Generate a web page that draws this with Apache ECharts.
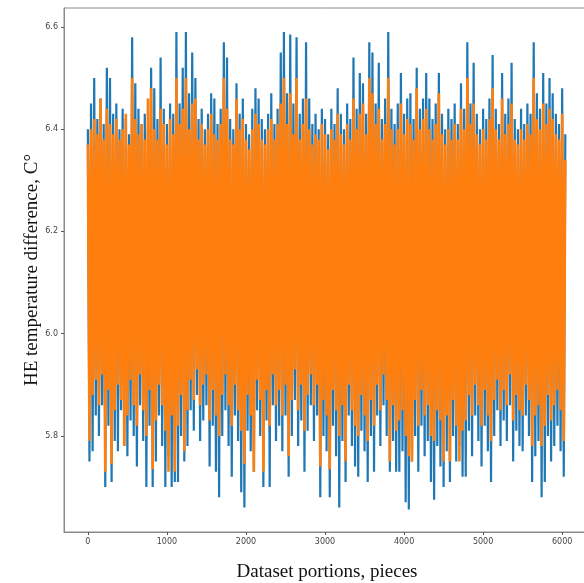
<!DOCTYPE html>
<html>
<head>
<meta charset="utf-8">
<script src="https://cdn.jsdelivr.net/npm/echarts@6/dist/echarts.min.js"></script>
<style>
html,body{margin:0;padding:0;background:#fff;}
#chart{width:584px;height:583px;}
</style>
</head>
<body>
<div id="chart"></div>
<script>
// sampling step along the x axis (dataset portion index)
const portionStep = 20;

// measured HE temperature difference (blue)
const blueValues = [
6.40,5.75,6.45,5.77,6.50,5.84,6.42,5.80,6.46,5.86,6.41,5.70,6.52,5.82,6.50,5.71,6.43,5.79,6.45,5.77,
6.40,5.85,6.44,5.78,6.42,5.76,6.39,5.83,6.58,5.80,6.49,5.74,6.44,5.86,6.41,5.79,6.43,5.70,6.40,5.82,
6.52,5.70,6.48,5.75,6.42,5.84,6.54,5.78,6.44,5.70,6.41,5.76,6.45,5.70,6.43,5.71,6.59,5.71,6.45,5.80,
6.52,5.75,6.59,5.78,6.47,5.85,6.55,5.81,6.50,5.88,6.42,5.79,6.44,5.83,6.40,5.86,6.43,5.74,6.47,5.82,
6.46,5.73,6.41,5.68,6.44,5.80,6.57,5.85,6.54,5.78,6.42,5.72,6.40,5.84,6.49,5.79,6.43,5.69,6.46,5.66,
6.41,5.81,6.39,5.77,6.44,5.73,6.48,5.85,6.46,5.80,6.42,5.70,6.40,5.83,6.43,5.70,6.47,5.86,6.41,5.79,
6.44,5.82,6.55,5.77,6.59,5.84,6.47,5.72,6.585,5.80,6.45,5.87,6.58,5.78,6.43,5.83,6.46,5.73,6.57,5.81,
6.46,5.86,6.41,5.79,6.43,5.84,6.40,5.68,6.44,5.80,6.42,5.77,6.39,5.68,6.44,5.82,6.41,5.76,6.48,5.66,
6.43,5.79,6.40,5.71,6.45,5.84,6.42,5.78,6.54,5.74,6.44,5.72,6.51,5.81,6.49,5.77,6.43,5.71,6.57,5.80,
6.55,5.73,6.45,5.84,6.53,5.78,6.42,5.86,6.46,5.80,6.59,5.73,6.44,5.79,6.41,5.73,6.45,5.73,6.51,5.77,
6.43,5.67,6.46,5.656,6.47,5.75,6.42,5.80,6.52,5.73,6.44,5.82,6.46,5.76,6.51,5.79,6.46,5.71,6.42,5.675,
6.45,5.78,6.51,5.74,6.43,5.70,6.40,5.77,6.44,5.71,6.42,5.80,6.45,5.75,6.41,5.78,6.49,5.72,6.44,5.72,
6.57,5.81,6.45,5.76,6.53,5.84,6.43,5.79,6.40,5.74,6.44,5.82,6.42,5.77,6.46,5.71,6.545,5.80,6.44,5.85,
6.41,5.78,6.51,5.83,6.43,5.79,6.46,5.86,6.53,5.75,6.42,5.81,6.40,5.78,6.44,5.77,6.41,5.84,6.45,5.80,
6.43,5.71,6.57,5.76,6.47,5.79,6.44,5.68,6.51,5.71,6.45,5.80,6.50,5.75,6.47,5.78,6.43,5.82,6.41,5.77,
6.48,5.72,6.39
];

// predicted HE temperature difference (orange)
const orangeValues = [
6.37,5.79,6.40,5.88,6.42,5.91,6.39,5.86,6.46,5.92,6.38,5.73,6.44,5.89,6.41,5.745,6.39,5.85,6.42,5.90,
6.38,5.87,6.40,5.78,6.43,5.84,6.37,5.91,6.50,5.86,6.42,5.82,6.39,5.92,6.41,5.85,6.38,5.80,6.46,5.89,
6.48,5.735,6.40,5.83,6.38,5.90,6.44,5.86,6.41,5.81,6.37,5.73,6.42,5.84,6.39,5.73,6.50,5.82,6.41,5.88,
6.44,5.77,6.50,5.85,6.40,5.91,6.45,5.87,6.46,5.93,6.38,5.86,6.41,5.90,6.37,5.92,6.40,5.83,6.43,5.89,
6.39,5.84,6.38,5.80,6.41,5.88,6.50,5.92,6.44,5.86,6.38,5.82,6.37,5.90,6.46,5.85,6.40,5.81,6.42,5.745,
6.38,5.88,6.36,5.84,6.40,5.73,6.43,5.91,6.41,5.87,6.38,5.73,6.37,5.89,6.40,5.82,6.42,5.92,6.38,5.86,
6.41,5.89,6.45,5.84,6.50,5.90,6.41,5.76,6.47,5.87,6.39,5.93,6.50,5.85,6.38,5.90,6.41,5.81,6.46,5.88,
6.40,5.92,6.37,5.86,6.39,5.90,6.38,5.74,6.41,5.87,6.39,5.84,6.36,5.735,6.40,5.89,6.38,5.85,6.43,5.80,
6.39,5.86,6.37,5.75,6.41,5.90,6.38,5.85,6.46,5.82,6.40,5.80,6.43,5.88,6.45,5.84,6.39,5.79,6.50,5.87,
6.47,5.82,6.41,5.90,6.44,5.85,6.38,5.92,6.41,5.87,6.50,5.75,6.40,5.86,6.37,5.81,6.40,5.83,6.45,5.85,
6.39,5.80,6.42,5.76,6.41,5.75,6.38,5.87,6.48,5.82,6.40,5.89,6.42,5.84,6.44,5.86,6.40,5.80,6.38,5.79,
6.41,5.85,6.47,5.83,6.39,5.75,6.37,5.84,6.40,5.75,6.38,5.87,6.41,5.82,6.38,5.75,6.44,5.81,6.40,5.83,
6.50,5.88,6.41,5.84,6.45,5.90,6.39,5.86,6.37,5.82,6.40,5.89,6.38,5.84,6.42,5.79,6.48,5.87,6.40,5.91,
6.38,5.85,6.46,5.89,6.39,5.86,6.41,5.92,6.45,5.83,6.38,5.88,6.37,5.85,6.40,5.84,6.38,5.90,6.41,5.87,
6.39,5.78,6.50,5.84,6.42,5.86,6.40,5.78,6.45,5.82,6.41,5.88,6.44,5.83,6.42,5.86,6.39,5.89,6.38,5.85,
6.43,5.79,6.34
];

// tick labels
const xTicks = [0, 1000, 2000, 3000, 4000, 5000, 6000];
const yTicks = [5.8, 6.0, 6.2, 6.4, 6.6];

const toPoints = arr => arr.map((v, i) => [i * portionStep, v]);

const chart = echarts.init(document.getElementById('chart'), null, {renderer: 'canvas'});
const axisGrey = '#8a8a8a';
const labelStyle = {fontFamily: 'DejaVu Sans', fontSize: 8, color: '#444'};

chart.setOption({
  animation: false,
  backgroundColor: '#fff',
  grid: {left: 64, top: 8, width: 526, height: 524, outerBoundsMode: 'none', containLabel: false,
         show: true, borderColor: axisGrey, borderWidth: 1},
  xAxis: {
    type: 'value', min: -302, max: 6352,
    name: 'Dataset portions, pieces', nameLocation: 'middle', nameGap: 31, nameMoveOverlap: false,
    nameTextStyle: {fontFamily: 'Liberation Serif', fontSize: 19, color: '#111'},
    axisLine: {show: true, onZero: false, lineStyle: {color: axisGrey}},
    axisTick: {show: true, inside: false, length: 3, customValues: xTicks, lineStyle: {color: '#555'}},
    axisLabel: Object.assign({customValues: xTicks, margin: 6, formatter: v => String(v)}, labelStyle),
    splitLine: {show: false}
  },
  yAxis: {
    type: 'value', min: 5.612, max: 6.637,
    name: 'HE temperature difference, C°', nameLocation: 'middle', nameGap: 22, nameRotate: 90, nameMoveOverlap: false,
    nameTextStyle: {fontFamily: 'Liberation Serif', fontSize: 19, color: '#111'},
    axisLine: {show: true, onZero: false, lineStyle: {color: axisGrey}},
    axisTick: {show: true, inside: false, length: 3, customValues: yTicks, lineStyle: {color: '#555'}},
    axisLabel: Object.assign({customValues: yTicks, margin: 6, formatter: v => v.toFixed(1)}, labelStyle),
    splitLine: {show: false}
  },
  series: [
    {type: 'line', data: toPoints(blueValues), showSymbol: false, sampling: null,
     lineStyle: {color: '#1f77b4', width: 2.2}, itemStyle: {color: '#1f77b4'}, z: 2},
    {type: 'line', data: toPoints(orangeValues), showSymbol: false, sampling: null,
     lineStyle: {color: '#ff7f0e', width: 2.6}, itemStyle: {color: '#ff7f0e'}, z: 3}
  ]
});
</script>
</body>
</html>
